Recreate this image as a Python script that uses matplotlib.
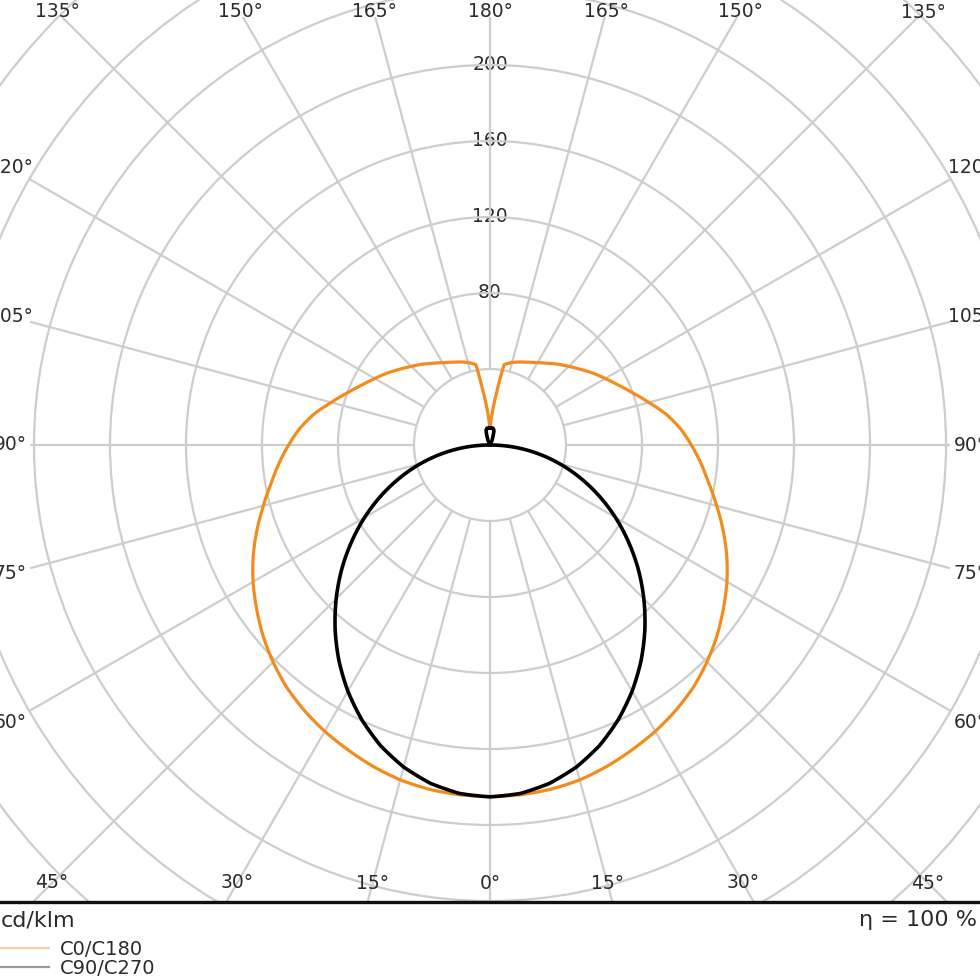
import numpy as np
import matplotlib
matplotlib.use("Agg")
import matplotlib.pyplot as plt
from matplotlib.lines import Line2D

# gamma angles (deg, 0 = straight down) and intensities in cd/klm
angles_c0 = [0, 5, 10, 15, 20, 25, 30, 35, 40, 45, 50, 55, 60, 65, 70, 75, 80, 85, 90,
             95, 100, 105, 110, 115, 120, 125, 130, 135, 140, 145, 150, 155, 160, 165,
             170, 172.5, 175, 177.5, 180]
c0_c180 = [185, 184.8, 184, 182.5, 180, 177, 174, 170.5, 166.5, 161.5, 156, 150, 144,
           137.5, 130.5, 123.5, 117, 111.5, 106, 100.5, 94, 86.5, 80, 74.5, 70, 66, 62,
           58.5, 55.5, 52.5, 50, 48, 46.5, 45, 43, 29, 20, 13, 9]

angles_c90 = [0, 5, 10, 15, 20, 25, 30, 35, 40, 45, 50, 55, 60, 65, 70, 75, 80, 85, 90,
              150, 160, 165, 170, 175, 180]
c90_c270 = [185.2, 184.1, 180.8, 175.5, 168.4, 159.6, 149.6, 138.6, 126.8, 114.5, 101.9,
            89.0, 76.2, 63.3, 50.5, 37.8, 25.1, 12.6, 0, 0, 4, 8, 9, 9, 9]

ring_values = [40, 80, 120, 160, 200, 240, 280, 320, 360]
ring_labels = [80, 120, 160, 200]
angle_ticks = list(range(0, 181, 15))

grid_c = "#cdcdcd"
text_c = "#2b2b2b"
orange = "#f28c1c"

W = H = 980
px = 1.9          # pixels per cd/klm
cx, cy = 490, 535  # polar centre, pixels from bottom-left
R = 360
rad = R * px

fig = plt.figure(figsize=(W / 100, H / 100), dpi=100)
ax = fig.add_axes([(cx - rad) / W, (cy - rad) / H, 2 * rad / W, 2 * rad / H],
                  projection="polar")
ax.set_theta_zero_location("S")
ax.set_theta_direction(1)
ax.set_ylim(0, R)
ax.set_xticks([])
ax.set_yticks(ring_values)
ax.set_yticklabels([])
ax.yaxis.grid(True, color=grid_c, lw=1.6, zorder=0)
ax.spines["polar"].set_visible(False)
ax.patch.set_alpha(0)


def both_sides(ang, val):
    ang = np.asarray(ang, dtype=float)
    val = np.asarray(val, dtype=float)
    th = np.deg2rad(np.concatenate([-ang[::-1], ang[1:]]))
    rr = np.concatenate([val[::-1], val[1:]])
    return th, rr


def edge_radius(phi, side, top, bottom):
    # distance (px) from centre to a box edge along the ray phi (0 = down)
    s, c = abs(np.sin(phi)), np.cos(phi)
    cands = []
    if s > 1e-9:
        cands.append(side / s)
    if c < -1e-9:
        cands.append(top / -c)
    if c > 1e-9:
        cands.append(bottom / c)
    return min(cands)


# spokes, start at the 40 ring
for t in angle_ticks:
    for sgn in ([1] if t in (0, 180) else [1, -1]):
        phi = np.deg2rad(t) * sgn
        r_end = edge_radius(phi, 460, 428, 480) / px
        ax.plot([phi, phi], [40, r_end], color=grid_c, lw=1.6, zorder=2,
                solid_capstyle="butt")

# ring labels along the 180 spoke
for rv in ring_labels:
    ax.text(np.pi, rv, str(rv), ha="center", va="center", fontsize=13.5, color=text_c,
            zorder=1.5, bbox=dict(fc="white", ec="none", pad=1.5))

# angle labels around the box
for t in angle_ticks:
    for sgn in ([1] if t in (0, 180) else [1, -1]):
        phi = np.deg2rad(t) * sgn
        r_lab = edge_radius(phi, 480, 433, 438) / px
        ax.text(phi, r_lab, f"{t}°", ha="center", va="center", fontsize=13.5,
                color=text_c, zorder=5)

th, rr = both_sides(angles_c0, c0_c180)
l1, = ax.plot(th, rr, color=orange, lw=2.3, zorder=4)
th, rr = both_sides(angles_c90, c90_c270)
l2, = ax.plot(th, rr, color="black", lw=2.6, zorder=4.5)
# draw the segments as curves in polar space
for ln in (l1, l2):
    ln.get_path()._interpolation_steps = 24

# bottom panel
bottom_h = 78
ax2 = fig.add_axes([0, 0, 1, bottom_h / H])
ax2.set_zorder(10)
ax2.set_facecolor("white")
ax2.set_xlim(0, W)
ax2.set_ylim(0, bottom_h)
ax2.set_xticks([])
ax2.set_yticks([])
for s in ["left", "right", "bottom"]:
    ax2.spines[s].set_visible(False)
ax2.spines["top"].set_linewidth(2.4)
ax2.spines["top"].set_color("#111111")

ax2.text(1, bottom_h - 18, "cd/klm", ha="left", va="center", fontsize=16, color=text_c)
ax2.text(977, bottom_h - 18, "η = 100 %", ha="right", va="center", fontsize=16,
         color=text_c)

handles = [Line2D([], [], color="#f7cfa0", lw=1.6),
           Line2D([], [], color="#9a9a9a", lw=1.6)]
ax2.legend(handles, ["C0/C180", "C90/C270"], loc="upper left",
           bbox_to_anchor=(0, 40), bbox_transform=ax2.transData, frameon=False,
           fontsize=14, borderpad=0, borderaxespad=0, handlelength=2.5,
           handletextpad=0.6, labelspacing=0.0, labelcolor=text_c)

fig.savefig("out.png", dpi=100, facecolor="white")
